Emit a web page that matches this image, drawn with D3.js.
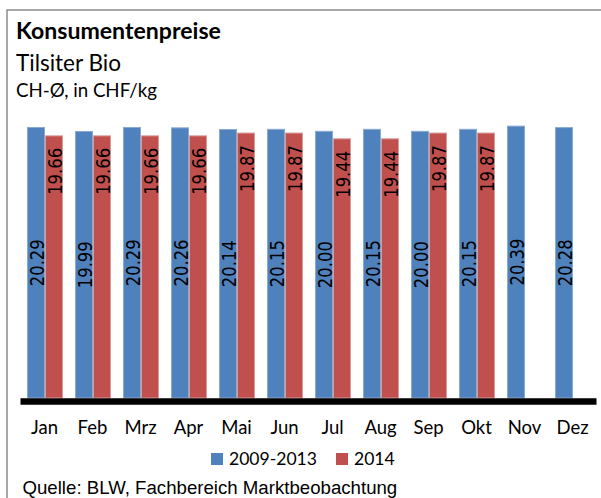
<!DOCTYPE html>
<html>
<head>
<meta charset="utf-8">
<script src="https://cdn.jsdelivr.net/npm/d3@7"></script>
<style>
  body { margin: 0; background: #fff; }
  svg { display: block; }
</style>
</head>
<body>
<svg id="chart" width="601" height="498"></svg>
<script>
// Monthly consumer prices, Tilsiter Bio (CHF/kg)
const months = ["Jan", "Feb", "Mrz", "Apr", "Mai", "Jun", "Jul", "Aug", "Sep", "Okt", "Nov", "Dez"];
const avg2009to2013 = [20.29, 19.99, 20.29, 20.26, 20.14, 20.15, 20.00, 20.15, 20.00, 20.15, 20.39, 20.28];
const prices2014 = [19.66, 19.66, 19.66, 19.66, 19.87, 19.87, 19.44, 19.44, 19.87, 19.87, null, null];
const seriesNames = ["2009-2013", "2014"];
const seriesColors = ["#4F81BD", "#C0504D"];
const seriesEdges = ["#8AAAD6", "#DB9A98"];

const titleText = "Konsumentenpreise";
const subtitleText = "Tilsiter Bio";
const unitText = "CH-\u00D8, in CHF/kg";
const sourceText = "Quelle: BLW, Fachbereich Marktbeobachtung";

const rows = months.map((m, i) => ({ month: m, values: [avg2009to2013[i], prices2014[i]] }));

const svg = d3.select("#chart");
const uiFont = "Lato, 'Open Sans', sans-serif";

// scale text so its rendered width equals the target width
function fitWidth(sel, target) {
  sel.each(function () {
    const t = d3.select(this);
    const fs = parseFloat(t.attr("font-size"));
    const w = this.getComputedTextLength();
    if (w > 0) t.attr("font-size", (fs * target / w).toFixed(2));
  });
  return sel;
}

// chart frame
svg.append("path")
  .attr("d", "M7,498V10H601")
  .attr("fill", "none")
  .attr("stroke", "#8c8c8c")
  .attr("stroke-width", 1.5);

// headings
svg.append("text").attr("x", 16).attr("y", 39)
  .attr("font-family", uiFont).attr("font-weight", 700).attr("font-size", 22)
  .attr("fill", "#000").text(titleText).call(fitWidth, 205);
svg.append("text").attr("x", 16).attr("y", 70.5)
  .attr("font-family", uiFont).attr("font-size", 22)
  .attr("fill", "#000").text(subtitleText).call(fitWidth, 105);
svg.append("text").attr("x", 16).attr("y", 97)
  .attr("font-family", uiFont).attr("font-size", 19)
  .attr("fill", "#000").text(unitText).call(fitWidth, 141);

// scales
const x0 = d3.scaleBand().domain(months).range([21, 597]).paddingInner(0.25).paddingOuter(0.125);
const x1 = d3.scaleBand().domain([0, 1]).range([0, x0.bandwidth()]);
const y = d3.scaleLinear().domain([0, 21]).range([398, 118]);

// bars
const groups = svg.append("g").selectAll("g")
  .data(rows).join("g")
  .attr("transform", d => `translate(${x0(d.month)},0)`);

const cells = groups.selectAll("g.cell")
  .data(d => d.values.map((v, k) => ({ v, k })).filter(c => c.v != null))
  .join("g").attr("class", "cell");

cells.append("rect")
  .attr("x", c => x1(c.k) + 0.5)
  .attr("width", x1.bandwidth() - 1)
  .attr("y", c => y(c.v))
  .attr("height", c => y(0) - y(c.v))
  .attr("fill", c => seriesColors[c.k])
  .attr("stroke", c => seriesEdges[c.k])
  .attr("stroke-width", 1);

// value labels, rotated; blue centred in the bar, red at the inside end
cells.append("text")
  .attr("transform", c => {
    const cx = x1(c.k) + x1.bandwidth() / 2 + 0.5;
    const cy = c.k === 0 ? (y(c.v) + y(0)) / 2 : y(c.v) + 12;
    return `translate(${cx},${cy}) rotate(-90)`;
  })
  .attr("text-anchor", c => c.k === 0 ? "middle" : "end")
  .attr("dy", "0.36em")
  .attr("font-family", "'DejaVu Sans', sans-serif")
  .attr("font-size", 20)
  .attr("textLength", 47)
  .attr("lengthAdjust", "spacingAndGlyphs")
  .attr("fill", "#000")
  .text(c => c.v.toFixed(2));

// category axis with heavy baseline
const axis = svg.append("g")
  .attr("transform", "translate(-1,401)")
  .call(d3.axisBottom(x0).tickSize(0).tickSizeOuter(0));
axis.select(".domain").attr("stroke", "#000").attr("stroke-width", 6.5);
axis.selectAll(".tick text")
  .attr("y", 33).attr("dy", 0)
  .attr("font-family", uiFont).attr("font-size", 18).attr("fill", "#000");
// match "Jan" width, then apply that size to every month label
{
  const first = axis.select(".tick text");
  first.call(fitWidth, 27);
  axis.selectAll(".tick text").attr("font-size", first.attr("font-size"));
  axis.selectAll(".tick").attr("transform", d => `translate(${x0(d) + x0.bandwidth() / 2 + 0.5},0)`);
}

// legend
const legendX = [211, 336];
const legend = svg.append("g").selectAll("g")
  .data(seriesNames).join("g")
  .attr("transform", (d, i) => `translate(${legendX[i]},453)`);
legend.append("rect").attr("width", 12).attr("height", 12)
  .attr("fill", (d, i) => seriesColors[i]);
legend.append("text").attr("x", 18).attr("y", 12)
  .attr("font-family", uiFont).attr("font-size", 18).attr("fill", "#000")
  .text(d => d);
{
  const lt = legend.select("text");
  const first = d3.select(lt.nodes()[0]);
  first.call(fitWidth, 88);
  lt.attr("font-size", first.attr("font-size"));
}

// source note
svg.append("text").attr("x", 22.5).attr("y", 494)
  .attr("font-family", "'Liberation Sans', Arial, sans-serif").attr("font-size", 18)
  .attr("fill", "#000").text(sourceText).call(fitWidth, 375);
</script>
</body>
</html>
